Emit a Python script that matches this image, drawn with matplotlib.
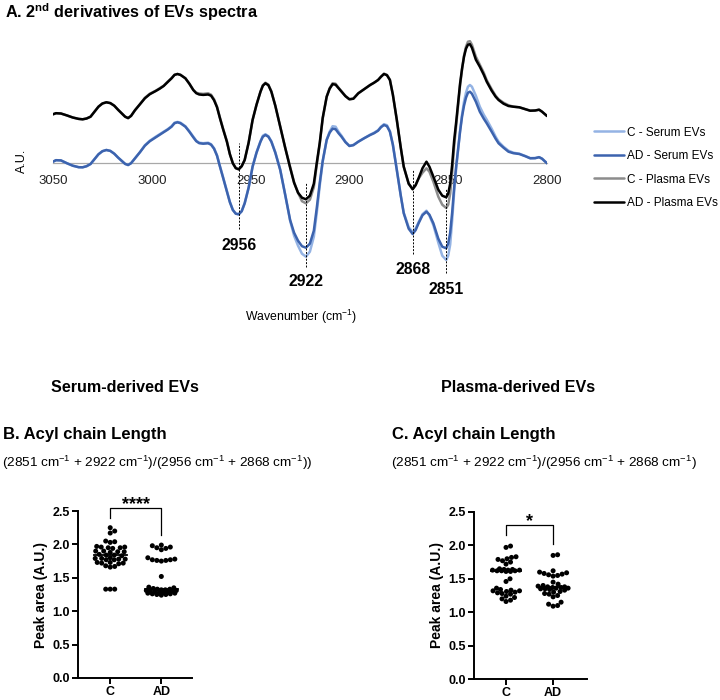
import numpy as np
import matplotlib
matplotlib.use("Agg")
from matplotlib import pyplot as plt

plt.rcParams['font.family'] = ['Liberation Sans', 'DejaVu Sans']
plt.rcParams['mathtext.fontset'] = 'custom'
plt.rcParams['mathtext.rm'] = 'Liberation Sans'
plt.rcParams['mathtext.it'] = 'Liberation Sans:italic'
plt.rcParams['mathtext.bf'] = 'Liberation Sans:bold'

# ---- A. second derivative spectra (arbitrary units) ----
wavenumber = [3050, 3048.5, 3046, 3043, 3040, 3037, 3035, 3033, 3031, 3029,
              3027, 3025, 3023, 3021, 3019, 3017, 3015, 3013.5, 3012, 3010.5,
              3008.5, 3006, 3003.5, 3001, 2998, 2996, 2994, 2992, 2990, 2988.5,
              2987, 2985.5, 2983, 2981, 2979, 2977.5, 2976, 2974, 2971.5, 2970,
              2968.5, 2967, 2965.5, 2964, 2962, 2960.5, 2959, 2957.5, 2956, 2954.5,
              2953, 2951, 2949, 2947, 2945, 2943.8, 2942.5, 2941, 2939.5, 2937.5,
              2935, 2932.5, 2930, 2928, 2926, 2924, 2922, 2920, 2918, 2916.5,
              2915, 2913.5, 2911.5, 2910, 2908.5, 2907, 2905.5, 2904, 2902, 2900,
              2898, 2895.5, 2892.5, 2889.5, 2887.5, 2885.5, 2884, 2882.5, 2881, 2879.5,
              2878, 2876, 2874, 2872.5, 2870, 2868, 2866.5, 2865, 2863, 2861,
              2859.5, 2857.5, 2855, 2853, 2851, 2850, 2849, 2848, 2847, 2846,
              2845, 2844, 2843, 2842, 2841, 2840, 2839, 2838, 2836, 2834,
              2832, 2830.5, 2828, 2826, 2824.5, 2822, 2819.5, 2817, 2814, 2811,
              2808.5, 2806, 2804, 2802.5, 2800]
c_serum = [1.0, 2.5, 2.3, -0.5, -3.0, -4.5, -4.6, -3.5, -1.3, 3.5,
           8.4, 11.5, 12.7, 11.8, 9.0, 5.0, 1.5, -1.2, -2.3, -0.5,
           4.4, 10.5, 17.5, 22.0, 26.0, 28.5, 31.0, 33.5, 36.5, 40.0,
           40.8, 40.0, 36.5, 31.5, 26.0, 22.0, 20.0, 19.5, 20.0, 18.5,
           14.5, 7.5, -3.5, -14.0, -28.5, -39.0, -47.0, -51.0, -51.6, -48.5,
           -40.6, -25.0, -4.0, 10.5, 21.5, 27.0, 28.5, 26.5, 21.5, 10.5,
           -7.0, -32.0, -58.0, -73.0, -83.0, -91.0, -94.0, -89.0, -74.0, -50.0,
           -23.0, 1.0, 23.0, 31.0, 36.5, 36.0, 31.0, 27.0, 21.0, 17.0,
           17.8, 21.0, 24.5, 28.0, 30.0, 32.5, 36.0, 38.5, 37.5, 31.5,
           18.0, -7.0, -33.0, -50.0, -64.5, -69.5, -66.0, -59.5, -51.5, -48.0,
           -53.0, -62.5, -80.0, -93.0, -97.3, -93.0, -82.0, -58.0, -30.0, -7.0,
           13.0, 32.0, 48.0, 61.0, 70.0, 76.0, 77.7, 76.0, 67.0, 56.0,
           48.0, 43.0, 34.0, 26.0, 21.0, 16.0, 12.0, 10.0, 9.0, 6.7,
           4.6, 4.7, 5.6, 4.0, -0.6]
ad_serum = [1.0, 2.5, 2.3, -0.5, -3.0, -4.5, -4.6, -3.5, -1.3, 3.5,
            8.4, 11.5, 12.7, 11.8, 9.0, 5.0, 1.5, -1.2, -2.3, -0.5,
            4.4, 10.5, 17.0, 21.5, 25.4, 28.0, 30.5, 33.0, 36.0, 39.5,
            40.4, 39.5, 36.0, 31.0, 25.4, 21.5, 19.5, 19.0, 19.4, 18.0,
            14.0, 7.0, -4.0, -14.5, -29.0, -39.5, -47.3, -51.0, -51.6, -48.5,
            -40.6, -25.0, -4.0, 10.0, 21.0, 26.0, 27.7, 26.0, 21.0, 10.0,
            -7.3, -32.0, -57.3, -70.0, -78.0, -83.5, -85.0, -81.0, -68.0, -45.0,
            -20.0, 2.0, 22.7, 30.0, 34.0, 33.5, 29.5, 26.0, 20.5, 16.7,
            17.5, 21.0, 24.5, 27.7, 29.5, 32.0, 35.5, 37.7, 36.5, 31.0,
            18.0, -7.3, -33.0, -50.6, -66.0, -71.3, -67.5, -60.6, -52.5, -49.0,
            -52.0, -60.6, -76.0, -84.0, -85.6, -81.0, -70.0, -50.0, -25.0, -4.0,
            14.0, 31.0, 46.0, 57.0, 65.0, 70.0, 71.0, 69.0, 61.0, 51.0,
            44.0, 39.4, 31.0, 24.0, 19.4, 15.0, 11.0, 9.5, 8.7, 6.5,
            4.4, 4.5, 5.5, 4.0, -0.6]
c_plasma = [48.4, 49.5, 49.2, 47.3, 45.2, 43.8, 43.4, 44.2, 46.0, 51.0,
            56.0, 59.2, 60.4, 59.6, 57.0, 52.8, 49.0, 46.0, 44.6, 46.8,
            52.5, 58.5, 64.9, 69.0, 72.0, 74.5, 77.0, 81.0, 84.5, 88.0,
            88.7, 88.0, 84.4, 79.0, 72.7, 70.0, 69.2, 68.8, 69.4, 68.0,
            63.5, 56.0, 45.0, 34.5, 21.5, 8.8, -0.3, -5.3, -6.6, -3.5,
            2.7, 20.0, 42.7, 58.0, 71.0, 77.5, 80.0, 78.0, 71.5, 57.0,
            36.0, 15.0, -4.0, -19.5, -30.0, -38.5, -40.6, -37.0, -24.5, -2.0,
            19.0, 44.0, 66.0, 74.5, 79.5, 79.0, 75.0, 71.5, 66.8, 63.5,
            64.0, 69.4, 73.5, 77.7, 80.0, 82.7, 86.0, 89.0, 87.8, 83.0,
            68.0, 42.7, 15.0, -4.0, -21.0, -26.0, -22.5, -16.0, -10.0, -5.6,
            -9.0, -19.0, -34.0, -42.0, -45.3, -42.0, -31.0, -10.0, 16.0, 36.0,
            57.0, 77.0, 93.0, 107.0, 116.0, 121.0, 121.5, 118.0, 106.0, 98.0,
            90.0, 82.5, 73.5, 67.0, 63.5, 60.0, 57.5, 56.0, 55.4, 53.5,
            52.0, 52.2, 53.0, 51.0, 46.7]
ad_plasma = [48.4, 49.5, 49.2, 47.3, 45.2, 43.8, 43.4, 44.2, 46.0, 51.0,
             56.0, 59.2, 60.4, 59.6, 57.0, 52.8, 49.0, 46.0, 44.6, 46.8,
             52.5, 58.5, 64.4, 68.5, 71.7, 74.0, 76.7, 80.5, 84.4, 87.8,
             88.7, 87.8, 84.4, 79.0, 72.7, 69.5, 68.2, 67.8, 68.2, 67.0,
             62.5, 55.5, 44.4, 34.0, 21.0, 8.5, -0.6, -5.5, -6.6, -3.5,
             2.7, 20.0, 42.7, 58.0, 71.0, 77.0, 79.4, 77.5, 71.0, 57.0,
             36.0, 15.0, -5.0, -20.0, -30.0, -35.0, -36.6, -33.0, -21.0, 0.0,
             20.0, 45.0, 66.0, 74.0, 78.5, 78.0, 74.5, 71.0, 66.5, 63.4,
             64.0, 69.4, 73.5, 77.7, 80.0, 82.7, 86.0, 88.7, 87.5, 82.7,
             68.0, 42.7, 15.0, -4.0, -21.0, -26.6, -22.5, -15.6, -5.5, 1.0,
             -4.0, -14.0, -27.0, -33.0, -34.6, -31.0, -21.0, -2.0, 22.0, 40.0,
             60.0, 79.0, 94.0, 106.0, 114.0, 118.0, 118.5, 115.0, 103.0, 96.0,
             88.0, 81.0, 72.0, 66.0, 62.7, 59.0, 56.7, 56.0, 55.4, 53.5,
             52.0, 52.2, 53.0, 51.0, 46.7]
spectra_labels = ['C - Serum EVs', 'AD - Serum EVs', 'C - Plasma EVs', 'AD - Plasma EVs']
spectra_colors = ['#94b3e4', '#3c63ae', '#8c8c8c', '#000000']

bands = [2956, 2922, 2868, 2851]
band_top = [20, -19, -6, -25]
band_bottom = [-66, -104, -91, -110]
band_text_y = [-83, -119, -107, -127]

# ---- B / C. acyl chain length ratio (peak area, A.U.) ----
groups = ['C', 'AD']
serum_c = [2.25, 2.20, 2.17,
           2.05, 2.04, 2.03,
           1.97, 1.96, 1.96, 1.95, 1.95, 1.94,
           1.90, 1.90, 1.89, 1.89, 1.88,
           1.85, 1.84, 1.84, 1.83,
           1.80, 1.79, 1.79, 1.78, 1.78, 1.77, 1.77,
           1.73, 1.73, 1.72, 1.72, 1.71,
           1.68, 1.67, 1.66,
           1.33, 1.33, 1.33]
serum_ad = [1.99, 1.98, 1.96, 1.95, 1.94, 1.92,
            1.80, 1.78, 1.77, 1.77, 1.76, 1.76, 1.75,
            1.52,
            1.36, 1.35, 1.34, 1.33, 1.33, 1.32, 1.32, 1.31, 1.31, 1.30, 1.30,
            1.29, 1.29, 1.28, 1.28, 1.27, 1.27, 1.26, 1.26, 1.25, 1.25, 1.24]
plasma_c = [1.99, 1.97,
            1.83, 1.82, 1.80, 1.79, 1.77, 1.75,
            1.72,
            1.65, 1.64, 1.64, 1.63, 1.63, 1.63, 1.62, 1.62, 1.62, 1.61, 1.61,
            1.50, 1.46,
            1.36, 1.34, 1.33, 1.32, 1.32, 1.31, 1.30, 1.29, 1.28, 1.27,
            1.24, 1.22, 1.20, 1.18, 1.16]
plasma_ad = [1.86, 1.85,
             1.62, 1.60, 1.59, 1.58, 1.57, 1.56, 1.55, 1.54,
             1.45, 1.42,
             1.40, 1.39, 1.38, 1.38, 1.37, 1.37, 1.36, 1.36, 1.35, 1.35, 1.34, 1.33,
             1.31, 1.30, 1.28, 1.27, 1.25, 1.23,
             1.15, 1.12, 1.10, 1.09]

W, H = 720, 700
fig = plt.figure(figsize=(W / 100, H / 100), dpi=100)


def fx(px):
    return px / W


def fy(py):
    return 1 - py / H


# ---------- panel A ----------
ax = fig.add_axes([fx(53), fy(300), fx(494), 270 / H])
for vals, lab, col in zip([c_serum, ad_serum, c_plasma, ad_plasma], spectra_labels, spectra_colors):
    ax.plot(wavenumber, vals, color=col, lw=1.8, label=lab,
            solid_capstyle='round', solid_joinstyle='round')
ax.vlines(bands, band_bottom, band_top, colors='black', lw=0.7, linestyles=(0, (2, 1.5)))
for b, ty in zip(bands, band_text_y):
    ax.text(b, ty, str(b), ha='center', va='center', fontsize=11.3, fontweight='bold')
ax.set_xlim(3050, 2800)
ax.set_ylim(-137.3, 132.7)
for s in ['top', 'right', 'left']:
    ax.spines[s].set_visible(False)
ax.spines['bottom'].set_position(('data', 0))
ax.spines['bottom'].set_color('#a8a8a8')
ax.spines['bottom'].set_linewidth(0.9)
ax.spines['bottom'].set_zorder(0)
ax.set_xticks([3050, 3000, 2950, 2900, 2850, 2800])
ax.tick_params(axis='x', length=0, pad=8.5, labelsize=9.5, labelcolor='#222222')
ax.set_yticks([])
ax.patch.set_visible(False)
fig.legend(loc='upper left', bbox_to_anchor=(fx(583), fy(116)), frameon=False,
           fontsize=8.5, handlelength=2.55, handletextpad=0.25, labelspacing=0.97)

fig.text(fx(5), fy(12), r'A. 2$^{\mathbf{nd}}$ derivatives of EVs spectra',
         fontsize=11.7, fontweight='bold', va='center', ha='left')
fig.text(fx(22), fy(161), 'A.U.', rotation=90, fontsize=9, ha='center', va='center')
fig.text(fx(301), fy(317), r'Wavenumber (cm$^{-1}$)', fontsize=8.8, ha='center', va='center')

# ---------- panels B and C ----------
fig.text(fx(125), fy(387), 'Serum-derived EVs', fontsize=11.6, fontweight='bold', ha='center', va='center')
fig.text(fx(518), fy(387), 'Plasma-derived EVs', fontsize=11.6, fontweight='bold', ha='center', va='center')
fig.text(fx(3), fy(435), 'B. Acyl chain Length', fontsize=12, fontweight='bold', ha='left', va='center')
fig.text(fx(392), fy(435), 'C. Acyl chain Length', fontsize=12, fontweight='bold', ha='left', va='center')
fig.text(fx(2), fy(463), r'(2851 cm$^{-1}$ + 2922 cm$^{-1}$)/(2956 cm$^{-1}$ + 2868 cm$^{-1}$))',
         fontsize=9.7, ha='left', va='center')
fig.text(fx(391), fy(463), r'(2851 cm$^{-1}$ + 2922 cm$^{-1}$)/(2956 cm$^{-1}$ + 2868 cm$^{-1}$)',
         fontsize=9.7, ha='left', va='center')


def swarm_offsets(axis, vals, min_dist=4.5, step=0.5, max_half=15):
    # beeswarm in pixel space with a width cap; crowded points overlap
    p0 = axis.transData.transform((0, 0))
    p1 = axis.transData.transform((1, 1))
    sx, sy = p1[0] - p0[0], p1[1] - p0[1]
    order = np.argsort(vals, kind='stable')
    cands = [0.0]
    k = step
    while k <= max_half:
        cands += [k, -k]
        k += step
    placed = []
    offs = np.zeros(len(vals))
    for i in order:
        y = vals[i] * sy
        best, best_d = 0.0, -1
        for c in cands:
            d = min([np.hypot(c - px, y - py) for px, py in placed] or [1e9])
            if d >= min_dist:
                best = c
                break
            if d > best_d:
                best, best_d = c, d
        placed.append((best, y))
        offs[i] = best / sx
    return offs


def scatter_panel(rect, xlim, c_vals, ad_vals, bracket, star, star_y):
    a = fig.add_axes(rect)
    a.set_xlim(*xlim)
    a.set_ylim(0, 2.5)
    for s in ['top', 'right']:
        a.spines[s].set_visible(False)
    for s in ['left', 'bottom']:
        a.spines[s].set_linewidth(1.4)
    a.set_yticks([0, 0.5, 1.0, 1.5, 2.0, 2.5])
    a.set_yticklabels(['%.1f' % t for t in [0, 0.5, 1.0, 1.5, 2.0, 2.5]])
    a.set_xticks([0, 1])
    a.set_xticklabels(groups)
    a.tick_params(width=1.4, length=4, labelsize=9, pad=2)
    for t in a.get_xticklabels() + a.get_yticklabels():
        t.set_fontweight('bold')
    a.set_ylabel('Peak area (A.U.)', fontsize=10, fontweight='bold', labelpad=3)
    for xi, vals in enumerate([c_vals, ad_vals]):
        v = np.array(vals)
        offs = swarm_offsets(a, v)
        a.scatter(xi + offs, v, s=13, color='black', edgecolor='none', zorder=3, clip_on=False)
        med = np.median(v)
        a.plot([xi - 0.32, xi + 0.32], [med, med], color='black', lw=1.3, zorder=4)
    top, left_low, right_low = bracket
    a.plot([0, 0, 1, 1], [left_low, top, top, right_low], color='black', lw=0.9, clip_on=False)
    a.text(0.5, star_y, star, ha='center', va='center', fontsize=13, fontweight='bold')
    return a


scatter_panel([fx(78), fy(678), fx(114), 167 / H], (-0.63, 1.6), serum_c, serum_ad,
              (2.545, 2.40, 2.14), '****', 2.60)
scatter_panel([fx(474), fy(679), fx(113), 167 / H], (-0.68, 1.72), plasma_c, plasma_ad,
              (2.305, 2.16, 2.02), '*', 2.36)

fig.savefig('out.png', dpi=100)
